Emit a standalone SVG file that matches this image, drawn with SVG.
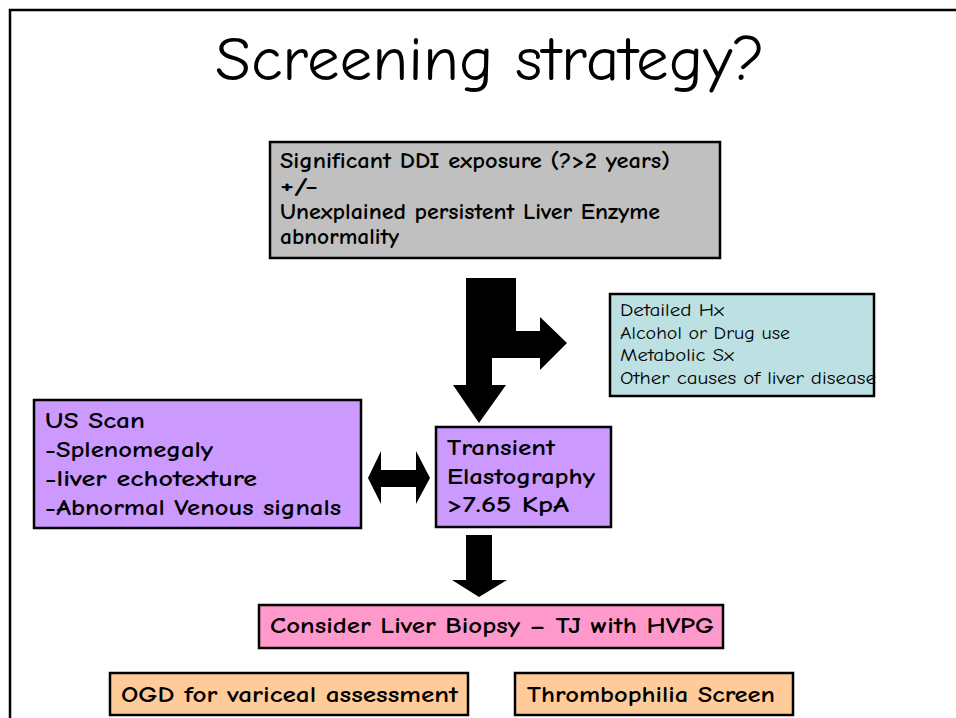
<svg xmlns="http://www.w3.org/2000/svg" width="956" height="718" viewBox="0 0 956 718">
<style>
text{font-family:"Comic Sans MS","Comic Neue","DejaVu Sans",sans-serif;fill:#000}
.b{font-weight:bold;font-size:22px}
.r{font-size:19px}
.box{stroke:#000;stroke-width:2.5}
.arrow{fill:#000;stroke:none}
</style>
<rect width="956" height="718" fill="#fff"/>
<path d="M10,718 V10 H956" fill="none" stroke="#000" stroke-width="2.5"/>
<g id="title">
<text x="490" y="80" font-size="62" text-anchor="middle" textLength="550" lengthAdjust="spacingAndGlyphs">Screening strategy?</text>
</g>
<g id="connectors">
<polygon class="arrow" points="466,278 516,278 516,331 540,331 540,317 567,343 540,370 540,358 492,358 492,385 506,385 479,423 453,385 466,385"/>
<polygon class="arrow" points="368,478 381,451 381,470 416,470 416,451 430,478 416,504 416,487 381,487 381,504"/>
<polygon class="arrow" points="466,535 492,535 492,580 507,580 479,597 452,580 466,580"/>
</g>
<g id="node-exposure">
<rect class="box" x="270" y="142" width="450" height="116" fill="#c0c0c0"/>
<text class="b" x="280" y="168" textLength="390" lengthAdjust="spacingAndGlyphs">Significant DDI exposure (?&gt;2 years)</text>
<text class="b" x="280" y="193" textLength="38" lengthAdjust="spacingAndGlyphs">+/-</text>
<text class="b" x="280" y="219" textLength="380" lengthAdjust="spacingAndGlyphs">Unexplained persistent Liver Enzyme</text>
<text class="b" x="280" y="244" textLength="119" lengthAdjust="spacingAndGlyphs">abnormality</text>
</g>
<g id="node-history">
<rect class="box" x="610" y="294" width="264" height="102" fill="#bde0e3"/>
<text class="r" x="620" y="316" textLength="104" lengthAdjust="spacingAndGlyphs">Detailed Hx</text>
<text class="r" x="620" y="339" textLength="170" lengthAdjust="spacingAndGlyphs">Alcohol or Drug use</text>
<text class="r" x="620" y="361" textLength="114" lengthAdjust="spacingAndGlyphs">Metabolic Sx</text>
<text class="r" x="620" y="384" textLength="256" lengthAdjust="spacingAndGlyphs">Other causes of liver disease</text>
</g>
<g id="node-us">
<rect class="box" x="34" y="400" width="327" height="128" fill="#cc99ff"/>
<text class="b" x="45" y="428" font-size="23" textLength="100" lengthAdjust="spacingAndGlyphs">US Scan</text>
<text class="b" x="45" y="457" font-size="23" textLength="168" lengthAdjust="spacingAndGlyphs">-Splenomegaly</text>
<text class="b" x="45" y="486" font-size="23" textLength="212" lengthAdjust="spacingAndGlyphs">-liver echotexture</text>
<text class="b" x="45" y="515" font-size="23" textLength="296" lengthAdjust="spacingAndGlyphs">-Abnormal Venous signals</text>
</g>
<g id="node-te">
<rect class="box" x="436" y="427" width="175" height="100" fill="#cc99ff"/>
<text class="b" x="447" y="455" font-size="23" textLength="108" lengthAdjust="spacingAndGlyphs">Transient</text>
<text class="b" x="447" y="484" font-size="23" textLength="148" lengthAdjust="spacingAndGlyphs">Elastography</text>
<text class="b" x="447" y="512" font-size="23" textLength="122" lengthAdjust="spacingAndGlyphs">&gt;7.65 KpA</text>
</g>
<g id="node-biopsy">
<rect class="box" x="259" y="605" width="464" height="43" fill="#ff99cc"/>
<text class="b" x="270" y="633" textLength="444" lengthAdjust="spacingAndGlyphs">Consider Liver Biopsy – TJ with HVPG</text>
</g>
<g id="node-ogd">
<rect class="box" x="110" y="673" width="358" height="42" fill="#ffcc99"/>
<text class="b" x="121" y="702" textLength="337" lengthAdjust="spacingAndGlyphs">OGD for variceal assessment</text>
</g>
<g id="node-thrombo">
<rect class="box" x="515" y="673" width="278" height="42" fill="#ffcc99"/>
<text class="b" x="527" y="702" textLength="248" lengthAdjust="spacingAndGlyphs">Thrombophilia Screen</text>
</g>
</svg>
